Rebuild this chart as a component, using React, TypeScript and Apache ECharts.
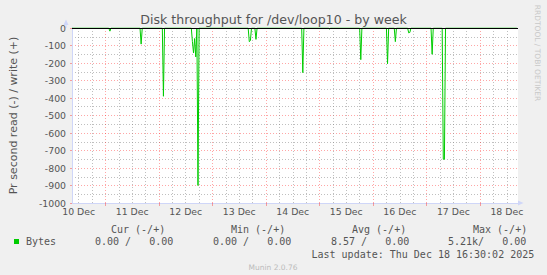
import React, { useEffect, useRef } from 'react';
import * as echarts from 'echarts';

// Time is in hours since 10 Dec 00:00
const dayLabels = ['10 Dec', '11 Dec', '12 Dec', '13 Dec', '14 Dec', '15 Dec', '16 Dec', '17 Dec', '18 Dec'];
const labelHours = [12, 36, 60, 84, 108, 132, 156, 180, 204];
const midnightHours = [24, 48, 72, 96, 120, 144, 168, 192];

// Read throughput (plotted negative), bytes per second
const readHours = [
  9,
  25.5, 26.0, 26.5,
  39.5, 40.0, 40.5,
  49.5, 50.0, 50.5,
  62.5, 63.0, 63.5, 64.0, 64.5, 65.0, 65.5, 66.0,
  88.0, 88.5, 89.0, 89.5,
  91.0, 91.5, 92.0,
  112.0, 112.5, 113.0,
  124.0, 124.5, 125.0,
  138.0, 138.5, 139.0,
  150.0, 150.5, 151.0,
  153.5, 154.0, 154.5,
  159.5, 160.0, 160.5, 161.0,
  170.0, 170.5, 171.0,
  175.0, 175.5, 176.0, 176.5,
  208.5,
];
const readValues = [
  0,
  0, -18, 0,
  0, -92, 0,
  0, -390, 0,
  0, -78, -143, -60, -165, 0, -900, 0,
  0, -78, -72, 0,
  0, -65, 0,
  0, -255, 0,
  0, -6, 0,
  0, -181, 0,
  0, -204, 0,
  0, -78, 0,
  0, -28, -25, 0,
  0, -150, 0,
  0, -750, -750, 0,
  0,
];

const statHeaders = ['Cur (-/+)', 'Min (-/+)', 'Avg (-/+)', 'Max (-/+)'];
const statValues = ['0.00 /   0.00', '0.00 /   0.00', '8.57 /   0.00', '5.21k/   0.00'];
const seriesName = 'Bytes';
const lastUpdate = 'Last update: Thu Dec 18 16:30:02 2025';

const X_MIN = 9;
const X_MAX = 209;

const minorHours: number[] = [];
for (let h = 12; h < X_MAX; h += 6) {
  if (h % 24 !== 0) minorHours.push(h);
}

const MONO = '"DejaVu Sans Mono", monospace';
const SANS = '"DejaVu Sans", sans-serif';
const TXT = '#555555';
const RED_GRID = 'rgba(255,0,0,0.35)';
const GRAY_GRID = 'rgba(128,128,128,0.5)';
const AXIS = '#CFD6F8';

const headerX = [111, 231, 352, 473];
const valueX = [95, 213, 331, 448];

function buildOption(): any {
  const graphic: any[] = [
    { type: 'line', shape: { x1: 66, y1: 28, x2: 66, y2: 22 }, style: { stroke: AXIS, lineWidth: 1 } },
    { type: 'polygon', shape: { points: [[63.5, 25], [68.5, 25], [66, 19.5]] }, style: { fill: AXIS } },
    { type: 'polygon', shape: { points: [[518, 200.5], [518, 205.5], [523.5, 203]] }, style: { fill: AXIS } },
    {
      type: 'text', x: 537.5, y: 53, rotation: -Math.PI / 2,
      style: { text: 'RRDTOOL / TOBI OETIKER', fill: '#c8c8c8', fontSize: 7.5, fontFamily: SANS, align: 'center', verticalAlign: 'middle' },
    },
    {
      type: 'text', x: 273, y: 267,
      style: { text: 'Munin 2.0.76', fill: '#bbbbbb', fontSize: 7.5, fontFamily: SANS, align: 'center', verticalAlign: 'middle' },
    },
    { type: 'rect', shape: { x: 14, y: 239, width: 5, height: 5 }, style: { fill: '#00cc00' } },
    {
      type: 'text', x: 26, y: 241.5,
      style: { text: seriesName, fill: TXT, fontSize: 10, fontFamily: MONO, align: 'left', verticalAlign: 'middle' },
    },
    {
      type: 'text', x: 311.5, y: 254.3,
      style: { text: lastUpdate, fill: TXT, fontSize: 10, fontFamily: MONO, align: 'left', verticalAlign: 'middle' },
    },
  ];
  statHeaders.forEach((t, i) => {
    graphic.push({
      type: 'text', x: headerX[i], y: 229,
      style: { text: t, fill: TXT, fontSize: 10, fontFamily: MONO, align: 'left', verticalAlign: 'middle' },
    });
  });
  statValues.forEach((t, i) => {
    graphic.push({
      type: 'text', x: valueX[i], y: 241.5,
      style: { text: t, fill: TXT, fontSize: 10, fontFamily: MONO, align: 'left', verticalAlign: 'middle' },
    });
  });

  return {
    animation: false,
    backgroundColor: '#f0f0f0',
    textStyle: { fontFamily: SANS },
    title: {
      text: 'Disk throughput for /dev/loop10 - by week',
      left: 'center',
      top: 12.5,
      padding: 0,
      textStyle: { fontSize: 12.6, fontWeight: 'normal', color: TXT, fontFamily: SANS },
    },
    grid: { left: 66, right: 29, top: 28, bottom: 72, show: true, backgroundColor: '#ffffff', borderWidth: 0 },
    xAxis: [
      {
        type: 'value', min: X_MIN, max: X_MAX, position: 'bottom',
        axisLine: { show: true, onZero: false, lineStyle: { color: AXIS } },
        axisTick: { show: false, customValues: labelHours },
        axisLabel: {
          customValues: labelHours,
          formatter: (v: number) => dayLabels[labelHours.indexOf(v)] ?? '',
          fontSize: 9.33, color: TXT, margin: 4, fontFamily: SANS,
        },
        splitLine: { show: false },
      },
      {
        type: 'value', min: X_MIN, max: X_MAX, position: 'bottom',
        axisLine: { show: false, onZero: false },
        axisTick: { show: true, customValues: midnightHours, length: 3, lineStyle: { color: RED_GRID } },
        axisLabel: { show: false },
        splitLine: { show: true, lineStyle: { color: RED_GRID, type: [1, 2], width: 1 } },
      },
      {
        type: 'value', min: X_MIN, max: X_MAX, position: 'top',
        axisLine: { show: false, onZero: false },
        axisTick: { show: false, customValues: minorHours },
        axisLabel: { show: false },
        splitLine: { show: true, lineStyle: { color: GRAY_GRID, type: [1, 2], width: 1 } },
      },
    ],
    yAxis: {
      type: 'value', min: -1000, max: 0, interval: 100,
      name: 'Pr second read (-) / write (+)',
      nameLocation: 'middle', nameGap: 53, nameRotate: 90,
      nameTextStyle: { fontSize: 11, color: TXT, fontFamily: SANS },
      axisLine: { show: true, onZero: false, lineStyle: { color: AXIS } },
      axisTick: { show: true, length: 2, lineStyle: { color: RED_GRID } },
      minorTick: { show: false, splitNumber: 2 },
      axisLabel: { formatter: (v: number) => String(v), fontSize: 9.33, color: TXT, margin: 6, fontFamily: SANS },
      splitLine: { show: true, lineStyle: { color: RED_GRID, type: [1, 2], width: 1 } },
      minorSplitLine: { show: true, lineStyle: { color: GRAY_GRID, type: [1, 2], width: 1 } },
    },
    series: [
      {
        name: seriesName,
        type: 'line',
        xAxisIndex: 0,
        data: readHours.map((h, i) => [h, readValues[i]]),
        symbol: 'none',
        showSymbol: false,
        lineStyle: { color: '#00cc00', width: 1 },
        itemStyle: { color: '#00cc00' },
        z: 3,
        markLine: {
          silent: true,
          symbol: 'none',
          label: { show: false },
          lineStyle: { color: '#000000', width: 1, type: 'solid' },
          data: [{ yAxis: 0 }],
        },
      },
    ],
    graphic,
  };
}

export default function App() {
  const ref = useRef<HTMLDivElement>(null);
  useEffect(() => {
    if (!ref.current) return;
    const chart = echarts.init(ref.current, null, { renderer: 'svg' });
    chart.setOption(buildOption());
    return () => chart.dispose();
  }, []);
  return <div ref={ref} style={{ position: 'absolute', left: 0, top: 0, width: 547, height: 275 }} />;
}
